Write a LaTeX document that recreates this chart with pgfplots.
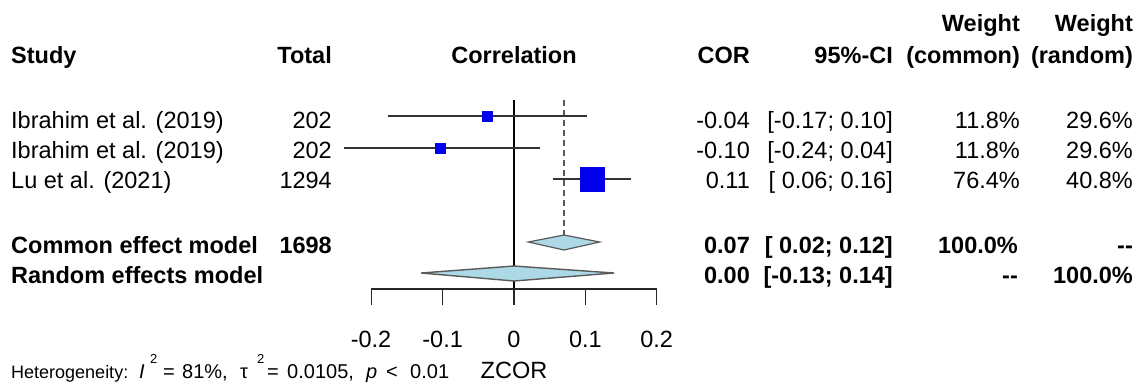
\documentclass[border=0pt]{standalone}
\usepackage{pgfplots}
\pgfplotsset{compat=1.18}
\usepackage{fontspec}
\setmainfont{Liberation Sans}
\definecolor{sqblue}{RGB}{0,0,235}
\definecolor{dmblue}{RGB}{173,216,230}
\definecolor{lgray}{RGB}{90,90,90}
\begin{document}
\begin{tikzpicture}
\pgfplotsset{base/.style={scale only axis, width=1147pt, height=388pt,
  ymin=0, ymax=388, y dir=reverse, hide axis, clip=false}}
\tikzset{t/.style={font=\fontsize{23.5}{28}\selectfont, inner sep=0pt},
         s/.style={font=\fontsize{18}{22}\selectfont, inner sep=0pt},
         h/.style={font=\fontsize{20}{24}\selectfont, inner sep=0pt},
         sp/.style={font=\fontsize{13}{16}\selectfont, inner sep=0pt}}
% ---------------- data axis (x in correlation units, y in rows) ----------
\begin{axis}[base, xmin=-0.7196, xmax=0.8862]
\path (rel axis cs:0,0) rectangle (rel axis cs:1,1);
% reference lines
\addplot[black, line width=1.1pt] coordinates {(0,100) (0,289)};
\addplot[lgray, line width=1.1pt, dash pattern=on 6pt off 4pt] coordinates {(0.07,100) (0.07,235)};
% confidence intervals
\addplot[black!80, line width=1.2pt] coordinates {(-0.177,116) (0.1015,116)};
\addplot[black!80, line width=1.2pt] coordinates {(-0.238,148) (0.037,148)};
\addplot[black!80, line width=1.2pt] coordinates {(0.055,179) (0.164,179)};
% study estimates
\addplot[only marks, mark=square*, mark size=5pt, mark options={fill=sqblue, draw=sqblue}] coordinates {(-0.037,116) (-0.103,148)};
\addplot[only marks, mark=square*, mark size=12pt, mark options={fill=sqblue, draw=sqblue}] coordinates {(0.110,179)};
\addplot[black, line width=0.8pt] coordinates {(0.110,173) (0.110,185)};
% pooled diamonds
\addplot[fill=dmblue, draw=lgray, line width=1.2pt] coordinates {(0.02,242) (0.07,235) (0.12,242) (0.07,250) (0.02,242)} -- cycle;
\addplot[fill=dmblue, draw=lgray, line width=1.4pt] coordinates {(-0.13,273) (0.00,266) (0.14,273) (0.00,281) (-0.13,273)} -- cycle;
% x axis of the forest plot
\addplot[black!85, line width=1.2pt] coordinates {(-0.2,289) (0.2,289)};
\addplot[black!85, line width=1.2pt] coordinates {(-0.2,289) (-0.2,305)};
\addplot[black!85, line width=1.2pt] coordinates {(-0.1,289) (-0.1,305)};
\addplot[black!85, line width=1.2pt] coordinates {(0,289) (0,305)};
\addplot[black!85, line width=1.2pt] coordinates {(0.1,289) (0.1,305)};
\addplot[black!85, line width=1.2pt] coordinates {(0.2,289) (0.2,305)};
\end{axis}
% ---------------- text axis (pixel units) ----------
\begin{axis}[base, xmin=0, xmax=1147]
% headers
\node[t, anchor=base west] at (axis cs:11,63) {\bfseries Study};
\node[t, anchor=base east] at (axis cs:332,63) {\bfseries Total};
\node[t, anchor=base] at (axis cs:514,63) {\bfseries Correlation};
\node[t, anchor=base east] at (axis cs:750,63) {\bfseries COR};
\node[t, anchor=base east] at (axis cs:893,63) {\bfseries 95\%-CI};
\node[t, anchor=base east] at (axis cs:1020,31) {\bfseries Weight};
\node[t, anchor=base east] at (axis cs:1020,63) {\bfseries (common)};
\node[t, anchor=base east] at (axis cs:1133,31) {\bfseries Weight};
\node[t, anchor=base east] at (axis cs:1133,63) {\bfseries (random)};
% rows
\node[t, anchor=base west] at (axis cs:11,128) {Ibrahim et al. (2019)};
\node[t, anchor=base west] at (axis cs:11,158) {Ibrahim et al. (2019)};
\node[t, anchor=base west] at (axis cs:11,188) {Lu et al. (2021)};
\node[t, anchor=base east] at (axis cs:332,128) {202};
\node[t, anchor=base east] at (axis cs:332,158) {202};
\node[t, anchor=base east] at (axis cs:332,188) {1294};
\node[t, anchor=base east] at (axis cs:750,128) {-0.04};
\node[t, anchor=base east] at (axis cs:750,158) {-0.10};
\node[t, anchor=base east] at (axis cs:750,188) {0.11};
\node[t, anchor=base east] at (axis cs:893,128) {[-0.17; 0.10]};
\node[t, anchor=base east] at (axis cs:893,158) {[-0.24; 0.04]};
\node[t, anchor=base east] at (axis cs:893,188) {[\ 0.06; 0.16]};
\node[t, anchor=base east] at (axis cs:1020,128) {11.8\%};
\node[t, anchor=base east] at (axis cs:1020,158) {11.8\%};
\node[t, anchor=base east] at (axis cs:1020,188) {76.4\%};
\node[t, anchor=base east] at (axis cs:1133,128) {29.6\%};
\node[t, anchor=base east] at (axis cs:1133,158) {29.6\%};
\node[t, anchor=base east] at (axis cs:1133,188) {40.8\%};
% pooled rows
\node[t, anchor=base west] at (axis cs:11,253) {\bfseries Common effect model};
\node[t, anchor=base west] at (axis cs:11,283) {\bfseries Random effects model};
\node[t, anchor=base east] at (axis cs:332,253) {\bfseries 1698};
\node[t, anchor=base east] at (axis cs:750,253) {\bfseries 0.07};
\node[t, anchor=base east] at (axis cs:750,283) {\bfseries 0.00};
\node[t, anchor=base east] at (axis cs:893,253) {\bfseries [\ 0.02; 0.12]};
\node[t, anchor=base east] at (axis cs:893,283) {\bfseries [-0.13; 0.14]};
\node[t, anchor=base east] at (axis cs:1018,253) {\bfseries 100.0\%};
\node[t, anchor=base east] at (axis cs:1133,253) {\bfseries -{}-};
\node[t, anchor=base east] at (axis cs:1018,283) {\bfseries -{}-};
\node[t, anchor=base east] at (axis cs:1133,283) {\bfseries 100.0\%};
% tick labels
\node[t, anchor=base] at (axis cs:371,347) {-0.2};
\node[t, anchor=base] at (axis cs:442.6,347) {-0.1};
\node[t, anchor=base] at (axis cs:514,347) {0};
\node[t, anchor=base] at (axis cs:585.4,347) {0.1};
\node[t, anchor=base] at (axis cs:656.7,347) {0.2};
\node[t, anchor=base] at (axis cs:514,378) {ZCOR};
% heterogeneity line
\node[s, anchor=base west] at (axis cs:11,378) {Heterogeneity:};
\node[h, anchor=base west] at (axis cs:139,378) {\textit{I}};
\node[sp, anchor=base west] at (axis cs:150,363) {2};
\node[h, anchor=base west] at (axis cs:163,378) {=};
\node[h, anchor=base west] at (axis cs:182,378) {81\%,};
\node[h, anchor=base west] at (axis cs:240,378) {τ};
\node[sp, anchor=base west] at (axis cs:257,363) {2};
\node[h, anchor=base west] at (axis cs:267,378) {=};
\node[h, anchor=base west] at (axis cs:287,378) {0.0105,};
\node[h, anchor=base west] at (axis cs:366,378) {\textit{p}};
\node[h, anchor=base west] at (axis cs:386,378) {<};
\node[h, anchor=base west] at (axis cs:410,378) {0.01};
\end{axis}
\end{tikzpicture}
\end{document}
